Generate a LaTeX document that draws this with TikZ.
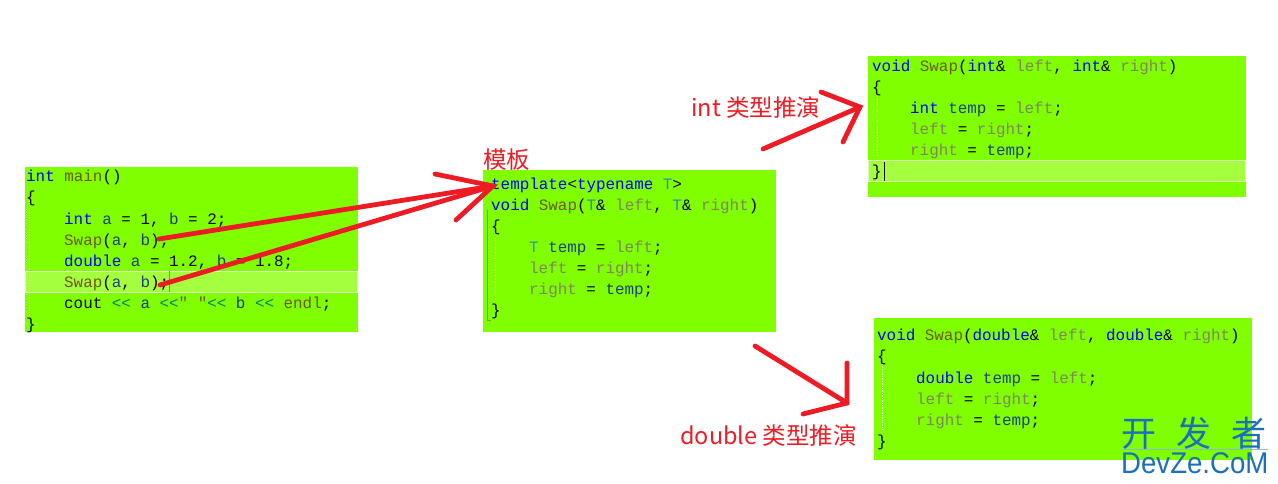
\documentclass[tikz,border=0pt]{standalone}
\usepackage{graphicx}
\usepackage{fontspec}
\setmainfont{Noto Sans CJK SC}
\newfontfamily\codefont{Liberation Mono}
\newfontfamily\wmfont{Liberation Sans}
\definecolor{panelgreen}{HTML}{80FF00}
\definecolor{hilite}{HTML}{A4FF3F}
\definecolor{hiedge}{HTML}{DDF5C0}
\definecolor{inkred}{HTML}{ED1C24}
\definecolor{ckwc}{HTML}{0000FF}
\definecolor{cfnc}{HTML}{6E5A14}
\definecolor{cpac}{HTML}{7F8560}
\definecolor{cvac}{HTML}{1F3F80}
\definecolor{ctyc}{HTML}{2B91AF}
\definecolor{copc}{HTML}{008080}
\definecolor{wmblue}{HTML}{1A70BC}
\newcommand\ckw[1]{\textcolor{ckwc}{#1}}
\newcommand\cfn[1]{\textcolor{cfnc}{#1}}
\newcommand\cpa[1]{\textcolor{cpac}{#1}}
\newcommand\cva[1]{\textcolor{cvac}{#1}}
\newcommand\cty[1]{\textcolor{ctyc}{#1}}
\newcommand\cop[1]{\textcolor{copc}{#1}}
\tikzset{
  x=1pt,y=-1pt,
  panel/.style={fill=panelgreen,draw=none,inner sep=0pt,anchor=north west},
  codeline/.style={inner sep=0pt,anchor=base west,font=\codefont\fontsize{15.9}{21}\selectfont,text=black},
  label/.style={inner sep=0pt,anchor=base west,text=inkred,font=\fontsize{23.5}{26}\selectfont},
  stroke/.style={draw=inkred,line width=4.8pt,line cap=round},
  guide/.style={draw=white!80!panelgreen,line width=.7pt,densely dotted},
  fold/.style={draw=black!28!panelgreen!70!gray,line width=.8pt},
}
\begin{document}
\begin{tikzpicture}
\useasboundingbox (0,0) rectangle (1278,484);
% panels
\node[panel,minimum width=333pt,minimum height=165pt] (pmain) at (25,167) {};
\node[panel,minimum width=293pt,minimum height=162pt] (ptpl) at (483,170) {};
\node[panel,minimum width=378pt,minimum height=141pt] (pint) at (868,56) {};
\node[panel,minimum width=378pt,minimum height=142pt] (pdbl) at (874,318) {};
% highlighted lines
\node[panel,fill=hilite,draw=hiedge,line width=1pt,minimum width=332pt,minimum height=21pt,outer sep=0pt] (hmain) at (25,271) {};
\node[panel,fill=hilite,draw=hiedge,line width=1pt,minimum width=377pt,minimum height=21pt,outer sep=0pt] (hint) at (868,161) {};
% guides
\draw[guide] (29,198) -- (29,318);
\draw[guide] (495,238) -- (495,300);
\draw[guide] (877,96) -- (877,156);
\draw[guide] (882,364) -- (882,430);
\draw[fold] (487,210) -- (487,320) -- (491,320);
\draw[fold] (169,271) -- (169,292);
\draw[black,line width=.7pt] (884,162) -- (884,181);
% main
\node[codeline] (m1) at (26,181.5) {\ckw{int} \cfn{main}()};
\node[codeline] (m2) at (26,202.5) {\{};
\node[codeline] (m3) at (64,224) {\ckw{int} \cva{a} = 1, \cva{b} = 2;};
\node[codeline] (m4) at (64,245) {\cfn{Swap}(\cva{a}, \cva{b});};
\node[codeline] (m5) at (64,266) {\ckw{double} \cva{a} = 1.2, \cva{b} = 1.8;};
\node[codeline] (m6) at (64,287) {\cfn{Swap}(\cva{a}, \cva{b});};
\node[codeline] (m7) at (64,308) {cout \cop{<<} \cva{a} \cop{<<}\cfn{" "}\cop{<<} \cva{b} \cop{<<} \cfn{endl};};
\node[codeline] (m8) at (26,329) {\}};
% template
\node[codeline] (t1) at (491,189.5) {\ckw{template}<\ckw{typename} \cty{T}>};
\node[codeline] (t2) at (491,210.5) {\ckw{void} \cfn{Swap}(\cty{T}\&{} \cpa{left}, \cty{T}\&{} \cpa{right})};
\node[codeline] (t3) at (491,231) {\{};
\node[codeline] (t4) at (529,252) {\cty{T} \cva{temp} = \cpa{left};};
\node[codeline] (t5) at (529,273) {\cpa{left} = \cpa{right};};
\node[codeline] (t6) at (529,294) {\cpa{right} = \cva{temp};};
\node[codeline] (t7) at (491,315) {\}};
% int
\node[codeline] (i1) at (872,72) {\ckw{void} \cfn{Swap}(\ckw{int}\&{} \cpa{left}, \ckw{int}\&{} \cpa{right})};
\node[codeline] (i2) at (872,93) {\{};
\node[codeline] (i3) at (910,114) {\ckw{int} \cva{temp} = \cpa{left};};
\node[codeline] (i4) at (910,135) {\cpa{left} = \cpa{right};};
\node[codeline] (i5) at (910,156) {\cpa{right} = \cva{temp};};
\node[codeline] (i6) at (872,177) {\}};
% double
\node[codeline] (d1) at (877,340) {\ckw{void} \cfn{Swap}(\ckw{double}\&{} \cpa{left}, \ckw{double}\&{} \cpa{right})};
\node[codeline] (d2) at (877,361) {\{};
\node[codeline] (d3) at (916,383) {\ckw{double} \cva{temp} = \cpa{left};};
\node[codeline] (d4) at (916,404) {\cpa{left} = \cpa{right};};
\node[codeline] (d5) at (916,425) {\cpa{right} = \cva{temp};};
\node[codeline] (d6) at (877,446) {\}};
% labels
\node[label] (lmb) at (483,168) {模板};
\node[label] (lint) at (691,116.5) {int 类型推演};
\node[label] (ldbl) at (680,444) {double 类型推演};
% hand-drawn arrows
\coordinate (a1s) at (159,239);
\coordinate (a2s) at (160,285);
\coordinate (tipT) at (493,186);
\coordinate (hT1) at (435,174);
\coordinate (hT2) at (456,220);
\coordinate (a3s) at (763,149);
\coordinate (tipI) at (860,107);
\coordinate (hI1) at (821,92);
\coordinate (hI2) at (843,142);
\coordinate (a4s) at (755,346);
\coordinate (tipD) at (847,403);
\coordinate (hD1) at (847,363);
\coordinate (hD2) at (803,414);
\draw[stroke] (a1s) -- (tipT);
\draw[stroke] (a2s) -- (tipT);
\draw[stroke] (hT1) -- (tipT) -- (hT2);
\draw[stroke] (a3s) -- (tipI);
\draw[stroke] (hI1) -- (tipI) -- (hI2);
\draw[stroke] (a4s) -- (tipD);
\draw[stroke] (hD1) -- (tipD) -- (hD2);
% watermark
\node[inner sep=0pt,anchor=base west,text=wmblue,font=\fontsize{35}{38}\selectfont] (wm1) at (1121,446) {开\hspace{20pt}发\hspace{20pt}者};
\draw[wmblue!50,line width=.8pt] (1122,449) -- (1268,449);
\node[inner sep=0pt,anchor=base west,text=wmblue,font=\wmfont\fontsize{30}{32}\selectfont] (wm2) at (1121,473.5) {\scalebox{0.92}[1]{DevZe.CoM}};
\end{tikzpicture}
\end{document}
